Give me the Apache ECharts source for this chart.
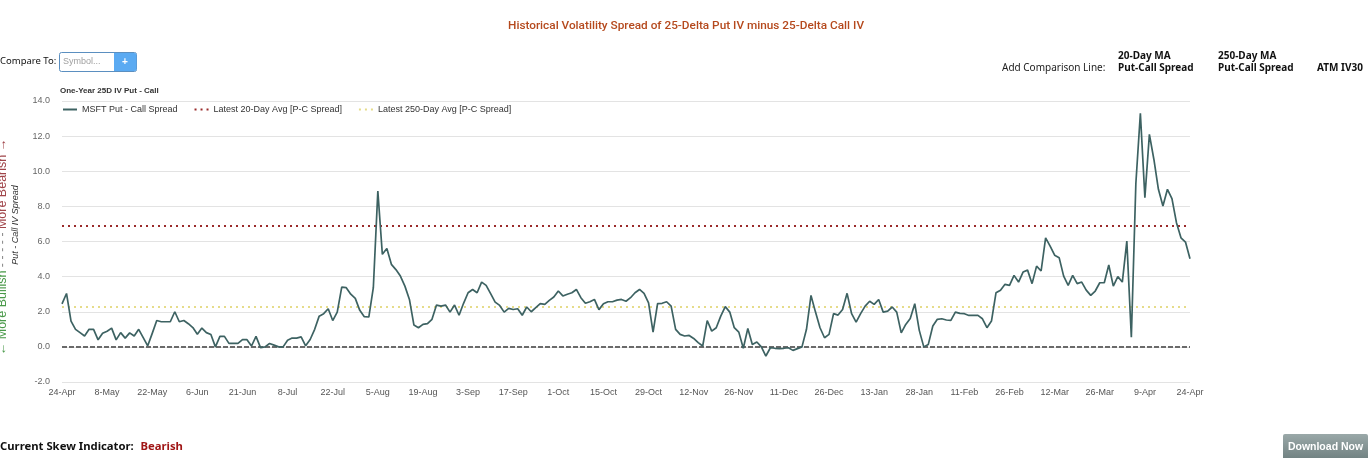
<!DOCTYPE html>
<html>
<head>
<meta charset="utf-8">
<script src="https://cdn.jsdelivr.net/npm/echarts@6/dist/echarts.min.js"></script>
<style>
  html, body { margin: 0; padding: 0; background: #fff; }
  #chart { width: 1372px; height: 458px; }
</style>
</head>
<body>
<div id="chart"></div>
<script>
// ---- Data ----
const categories = [
  '24-Apr','25-Apr','26-Apr','29-Apr','30-Apr',
  '1-May','2-May','3-May','6-May','7-May','8-May','9-May','10-May','13-May','14-May','15-May','16-May','17-May','20-May','21-May','22-May','23-May','24-May','28-May','29-May','30-May','31-May',
  '3-Jun','4-Jun','5-Jun','6-Jun','7-Jun','10-Jun','11-Jun','12-Jun','13-Jun','14-Jun','17-Jun','18-Jun','20-Jun','21-Jun','24-Jun','25-Jun','26-Jun','27-Jun','28-Jun',
  '1-Jul','2-Jul','3-Jul','5-Jul','8-Jul','9-Jul','10-Jul','11-Jul','12-Jul','15-Jul','16-Jul','17-Jul','18-Jul','19-Jul','22-Jul','23-Jul','24-Jul','25-Jul','26-Jul','29-Jul','30-Jul','31-Jul',
  '1-Aug','2-Aug','5-Aug','6-Aug','7-Aug','8-Aug','9-Aug','12-Aug','13-Aug','14-Aug','15-Aug','16-Aug','19-Aug','20-Aug','21-Aug','22-Aug','23-Aug','26-Aug','27-Aug','28-Aug','29-Aug','30-Aug',
  '3-Sep','4-Sep','5-Sep','6-Sep','9-Sep','10-Sep','11-Sep','12-Sep','13-Sep','16-Sep','17-Sep','18-Sep','19-Sep','20-Sep','23-Sep','24-Sep','25-Sep','26-Sep','27-Sep','30-Sep',
  '1-Oct','2-Oct','3-Oct','4-Oct','7-Oct','8-Oct','9-Oct','10-Oct','11-Oct','14-Oct','15-Oct','16-Oct','17-Oct','18-Oct','21-Oct','22-Oct','23-Oct','24-Oct','25-Oct','28-Oct','29-Oct','30-Oct','31-Oct',
  '1-Nov','4-Nov','5-Nov','6-Nov','7-Nov','8-Nov','11-Nov','12-Nov','13-Nov','14-Nov','15-Nov','18-Nov','19-Nov','20-Nov','21-Nov','22-Nov','25-Nov','26-Nov','27-Nov','29-Nov',
  '2-Dec','3-Dec','4-Dec','5-Dec','6-Dec','9-Dec','10-Dec','11-Dec','12-Dec','13-Dec','16-Dec','17-Dec','18-Dec','19-Dec','20-Dec','23-Dec','24-Dec','26-Dec','27-Dec','30-Dec','31-Dec',
  '2-Jan','3-Jan','6-Jan','7-Jan','8-Jan','10-Jan','13-Jan','14-Jan','15-Jan','16-Jan','17-Jan','21-Jan','22-Jan','23-Jan','24-Jan','27-Jan','28-Jan','29-Jan','30-Jan','31-Jan',
  '3-Feb','4-Feb','5-Feb','6-Feb','7-Feb','10-Feb','11-Feb','12-Feb','13-Feb','14-Feb','18-Feb','19-Feb','20-Feb','21-Feb','24-Feb','25-Feb','26-Feb','27-Feb','28-Feb',
  '3-Mar','4-Mar','5-Mar','6-Mar','7-Mar','10-Mar','11-Mar','12-Mar','13-Mar','14-Mar','17-Mar','18-Mar','19-Mar','20-Mar','21-Mar','24-Mar','25-Mar','26-Mar','27-Mar','28-Mar','31-Mar',
  '1-Apr','2-Apr','3-Apr','4-Apr','7-Apr','8-Apr','9-Apr','10-Apr','11-Apr','14-Apr','15-Apr','16-Apr','17-Apr','21-Apr','22-Apr','23-Apr','24-Apr'
];

const spreadValues = [
  2.45,3.04,1.47,1.0,0.81,0.62,1.0,1.0,0.4,0.77,
  0.89,1.07,0.4,0.81,0.5,0.8,0.62,1.0,0.53,0.06,
  0.77,1.5,1.43,1.43,1.43,2.0,1.43,1.5,1.32,1.1,
  0.72,1.07,0.81,0.7,0.0,0.6,0.6,0.2,0.2,0.2,
  0.41,0.41,0.05,0.6,-0.04,0.0,0.19,0.1,0.0,0.0,
  0.38,0.5,0.5,0.57,0.06,0.42,1.0,1.75,1.89,2.17,
  1.5,1.98,3.4,3.37,3.0,2.76,2.08,1.72,1.7,3.37,
  8.87,5.27,5.6,4.7,4.4,4.03,3.46,2.7,1.24,1.09,
  1.28,1.32,1.57,2.38,2.32,2.38,1.98,2.38,1.8,2.48,
  3.08,3.27,3.08,3.69,3.5,3.03,2.55,2.36,1.98,2.19,
  2.13,2.17,1.8,2.27,2.0,2.23,2.46,2.42,2.65,2.84,
  3.18,2.9,3.0,3.08,3.27,2.8,2.48,2.57,2.7,2.12,
  2.45,2.57,2.57,2.66,2.7,2.6,2.8,3.08,3.27,3.05,
  2.5,0.84,2.46,2.48,2.57,2.32,1.0,0.71,0.62,0.65,
  0.48,0.24,0.05,1.5,0.9,1.09,1.75,2.29,1.98,1.09,
  0.84,-0.08,1.05,0.14,0.28,0.0,-0.52,-0.05,-0.08,-0.1,
  -0.08,-0.05,-0.2,-0.1,0.0,1.0,2.93,1.98,1.09,0.52,
  0.71,1.89,1.81,2.13,3.05,1.89,1.41,1.89,2.32,2.6,
  2.42,2.7,1.98,2.04,2.27,1.98,0.8,1.28,1.62,2.46,
  0.94,0.0,0.14,1.19,1.57,1.6,1.53,1.51,1.98,1.91,
  1.89,1.79,1.79,1.79,1.6,1.09,1.47,3.08,3.23,3.56,
  3.5,4.07,3.69,4.26,4.37,3.6,4.6,4.32,6.21,5.74,
  5.22,5.08,4.03,3.5,4.07,3.6,3.69,3.23,2.93,3.18,
  3.65,3.65,4.66,3.46,4.0,3.69,6.02,0.55,9.3,13.3,
  8.5,12.1,10.67,8.97,8.02,8.97,8.44,7.07,6.21,5.97,
  5.02
];

const avg20 = 6.88;
const avg250 = 2.27;
const zeroLevel = 0;

const seriesNames = ['MSFT Put - Call Spread', 'Latest 20-Day Avg [P-C Spread]', 'Latest 250-Day Avg [P-C Spread]'];
const yTickMin = -2, yTickMax = 14, yTickStep = 2;

// ---- Chart ----
const chart = echarts.init(document.getElementById('chart'), null, { renderer: 'canvas' });

const dotted = [2, 4];

const option = {
  animation: false,
  backgroundColor: '#ffffff',
  title: {
    text: 'Historical Volatility Spread of 25-Delta Put IV minus 25-Delta Call IV',
    left: 'center',
    top: 15,
    textStyle: { color: '#b5491d', fontSize: 11.8, fontWeight: 500, fontFamily: 'Roboto' }
  },
  legend: {
    left: 58,
    top: 105,
    itemWidth: 14,
    itemHeight: 8,
    itemGap: 16,
    backgroundColor: '#ffffff',
    padding: [0, 4],
    itemStyle: { opacity: 0 },
    textStyle: { color: '#333', fontSize: 9, fontFamily: 'Liberation Sans' },
    data: seriesNames
  },
  grid: { left: 62, right: 182, top: 101, bottom: 76 },
  xAxis: {
    type: 'category',
    boundaryGap: false,
    data: categories,
    axisLine: { show: false },
    axisTick: { show: false },
    axisLabel: { interval: 9, color: '#555', fontSize: 9, fontFamily: 'Liberation Sans', margin: 6 },
    splitLine: { show: false }
  },
  yAxis: {
    type: 'value',
    min: yTickMin,
    max: yTickMax,
    interval: yTickStep,
    axisLine: { show: false },
    axisTick: { show: false },
    axisLabel: { color: '#666', fontSize: 9, fontFamily: 'Liberation Sans', margin: 12,
      formatter: v => v.toFixed(1) },
    splitLine: { lineStyle: { color: '#e3e3e3', width: 1 } }
  },
  series: [
    {
      name: seriesNames[0],
      type: 'line',
      data: spreadValues,
      symbol: 'none',
      color: '#3d6262',
      lineStyle: { color: '#3d6262', width: 1.7 },
      z: 5,
      markLine: {
        silent: true,
        symbol: ['none', 'none'],
        label: { show: false },
        lineStyle: { color: '#6a6a6a', type: [5, 2], width: 2 },
        data: [{ yAxis: zeroLevel }]
      }
    },
    {
      name: seriesNames[1],
      type: 'line',
      data: [],
      symbol: 'none',
      color: '#9a2b2b',
      lineStyle: { color: '#9a2b2b', type: dotted, width: 2 },
      markLine: {
        silent: true,
        symbol: ['none', 'none'],
        label: { show: false },
        lineStyle: { color: '#9a2b2b', type: dotted, width: 2 },
        data: [{ yAxis: avg20 }]
      }
    },
    {
      name: seriesNames[2],
      type: 'line',
      data: [],
      symbol: 'none',
      color: '#e6dc8a',
      lineStyle: { color: '#e6dc8a', type: dotted, width: 2 },
      markLine: {
        silent: true,
        symbol: ['none', 'none'],
        label: { show: false },
        lineStyle: { color: '#e6dc8a', type: dotted, width: 2 },
        data: [{ yAxis: avg250 }]
      }
    }
  ],
  graphic: [
    // Compare To control
    { type: 'text', x: 0, y: 61, style: { text: 'Compare To:', fill: '#111', font: '9.5px "Noto Sans"', verticalAlign: 'middle' } },
    { type: 'rect', shape: { x: 59.5, y: 52.5, width: 77, height: 19, r: 2 }, style: { fill: '#fff', stroke: '#5b8fc0', lineWidth: 1 } },
    { type: 'rect', shape: { x: 114, y: 53, width: 22.5, height: 18, r: [0, 2, 2, 0] }, style: { fill: '#5aaaf2' } },
    { type: 'text', x: 125, y: 62, style: { text: '+', fill: '#fff', font: 'bold 10px "Liberation Sans"', align: 'center', verticalAlign: 'middle' } },
    { type: 'text', x: 63, y: 62, style: { text: 'Symbol...', fill: '#a0a0a0', font: '9px "Liberation Sans"', verticalAlign: 'middle' } },

    // Comparison line options
    { type: 'text', x: 1002, y: 68, style: { text: 'Add Comparison Line:', fill: '#222', font: '10px "Noto Sans"', verticalAlign: 'middle' } },
    { type: 'text', x: 1118, y: 56, style: { text: '20-Day MA', fill: '#111', font: 'bold 10px "Noto Sans"', verticalAlign: 'middle' } },
    { type: 'text', x: 1118, y: 68, style: { text: 'Put-Call Spread', fill: '#111', font: 'bold 10px "Noto Sans"', verticalAlign: 'middle' } },
    { type: 'text', x: 1218, y: 56, style: { text: '250-Day MA', fill: '#111', font: 'bold 10px "Noto Sans"', verticalAlign: 'middle' } },
    { type: 'text', x: 1218, y: 68, style: { text: 'Put-Call Spread', fill: '#111', font: 'bold 10px "Noto Sans"', verticalAlign: 'middle' } },
    { type: 'text', x: 1317, y: 68, style: { text: 'ATM IV30', fill: '#111', font: 'bold 10px "Noto Sans"', verticalAlign: 'middle' } },

    // Chart subtitle
    { type: 'text', x: 60, y: 91, style: { text: 'One-Year 25D IV Put - Call', fill: '#333', font: 'bold 8px "Liberation Sans"', verticalAlign: 'middle' } },

    // Y-axis rotated labels
    { type: 'text', x: 15, y: 225, rotation: Math.PI / 2,
      style: { text: 'Put - Call IV Spread', fill: '#333', font: 'italic 9px "Liberation Sans"', align: 'center', verticalAlign: 'middle' } },
    { type: 'text', x: 3, y: 247, rotation: Math.PI / 2,
      style: {
        text: '{g|← More Bullish} {d|- - - - -} {r|More Bearish →}',
        align: 'center', verticalAlign: 'middle',
        rich: {
          g: { fill: '#4a9a4a', font: '12.5px "Liberation Sans"' },
          d: { fill: '#888', font: '12.5px "Liberation Sans"' },
          r: { fill: '#a0454a', font: '12.5px "Liberation Sans"' }
        }
      } },

    // Bottom skew indicator
    { type: 'text', x: 0, y: 447, style: { text: '{a|Current Skew Indicator:}  {b|Bearish}', verticalAlign: 'middle',
        rich: {
          a: { fill: '#111', font: 'bold 11.3px "Noto Sans"' },
          b: { fill: '#a01616', font: 'bold 11.3px "Noto Sans"' }
        } } },

    // Download button
    { type: 'rect', shape: { x: 1283, y: 434, width: 85, height: 26, r: 2 },
      style: { fill: new echarts.graphic.LinearGradient(0, 0, 0, 1, [
        { offset: 0, color: '#9aa8a8' }, { offset: 1, color: '#6f8080' }]) } },
    { type: 'text', x: 1325.5, y: 447, style: { text: 'Download Now', fill: '#fff', font: 'bold 10.5px "Liberation Sans"', align: 'center', verticalAlign: 'middle' } }
  ]
};

chart.setOption(option);
</script>
</body>
</html>
